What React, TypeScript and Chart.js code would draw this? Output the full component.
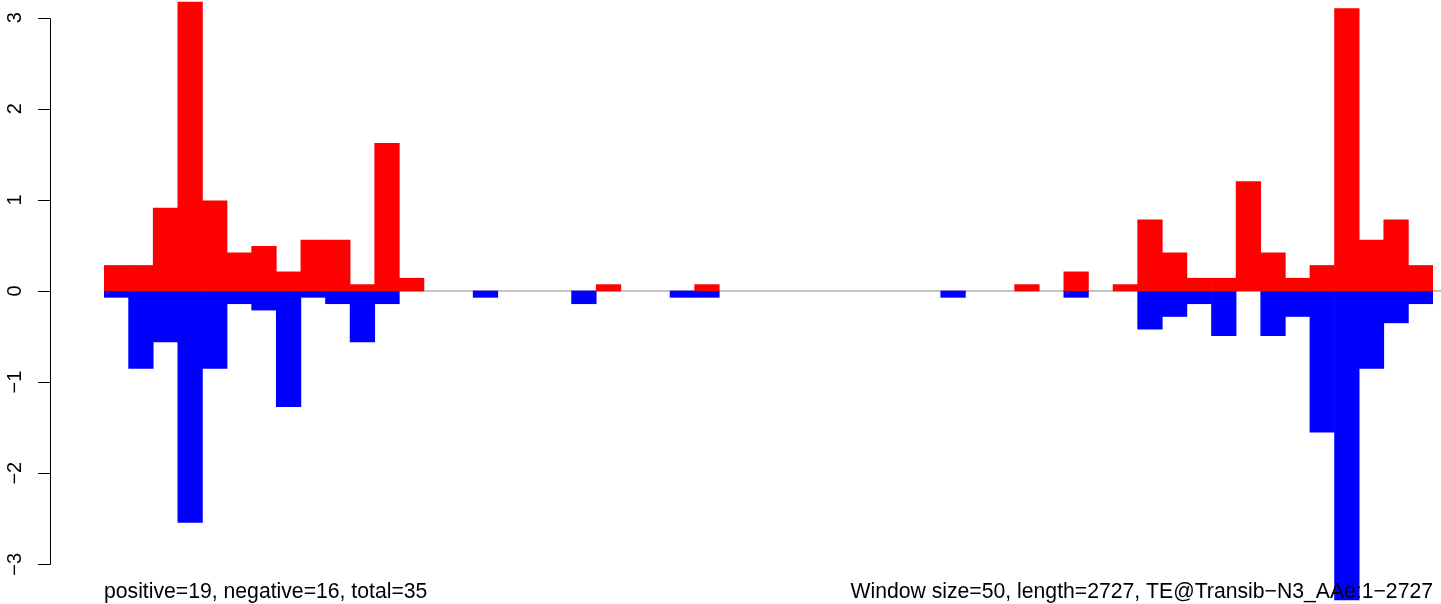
import React, { useEffect, useRef } from "react";
import { Chart, registerables } from "chart.js";

Chart.register(...registerables);

// Window start positions (window size 50) — one bar per window
const windowStarts: number[] = [
  1, 51, 101, 151, 201, 251, 301, 351, 401, 451,
  501, 551, 601, 651, 701, 751, 801, 851, 901, 951,
  1001, 1051, 1101, 1151, 1201, 1251, 1301, 1351, 1401, 1451,
  1501, 1551, 1601, 1651, 1701, 1751, 1801, 1851, 1901, 1951,
  2001, 2051, 2101, 2151, 2201, 2251, 2301, 2351, 2401, 2451,
  2501, 2551, 2601, 2651,
];

// Positive-strand values (red)
const positiveValues: number[] = [
  0.28, 0.28, 0.91, 3.17, 0.99, 0.42, 0.49, 0.21, 0.56, 0.56,
  0.07, 1.62, 0.14, 0, 0, 0, 0, 0, 0, 0,
  0.07, 0, 0, 0, 0.07, 0, 0, 0, 0, 0,
  0, 0, 0, 0, 0, 0, 0, 0.07, 0, 0.21,
  0, 0.07, 0.78, 0.42, 0.14, 0.14, 1.2, 0.42, 0.14, 0.28,
  3.1, 0.56, 0.78, 0.28,
];

// Negative-strand values (blue)
const negativeValues: number[] = [
  -0.07, -0.85, -0.56, -2.54, -0.85, -0.14, -0.21, -1.27, -0.07, -0.14,
  -0.56, -0.14, 0, 0, 0, -0.07, 0, 0, 0, -0.14,
  0, 0, 0, -0.07, -0.07, 0, 0, 0, 0, 0,
  0, 0, 0, 0, -0.07, 0, 0, 0, 0, -0.07,
  0, 0, -0.42, -0.28, -0.14, -0.49, 0, -0.49, -0.28, -1.55,
  -3.39, -0.85, -0.35, -0.14,
];

const yTicks: number[] = [-3, -2, -1, 0, 1, 2, 3];

const leftNote = "positive=19, negative=16, total=35";
const rightNote = "Window size=50, length=2727, TE@Transib\u2212N3_AAe:1\u22122727";

const FONT = '"Liberation Sans", Arial, Helvetica, sans-serif';

const fmtTick = (v: number) => (v < 0 ? "\u2212" + Math.abs(v) : String(v));
const nonZero = (arr: number[]) => arr.map((v) => (v === 0 ? null : v));

const rAxisPlugin = {
  id: "rAxis",
  beforeDatasetsDraw(chart: any) {
    const { ctx, chartArea, scales } = chart;
    const y0 = scales.y.getPixelForValue(0);
    ctx.save();
    ctx.strokeStyle = "#8c8c8c";
    ctx.lineWidth = 1.2;
    ctx.beginPath();
    ctx.moveTo(chartArea.left, y0);
    ctx.lineTo(chart.width, y0);
    ctx.stroke();
    ctx.restore();
  },
  afterDraw(chart: any) {
    const { ctx, chartArea, scales } = chart;
    const y = scales.y;
    ctx.save();
    ctx.strokeStyle = "#000";
    ctx.fillStyle = "#000";
    ctx.lineWidth = 1;
    const axisX = 50.5;
    const top = y.getPixelForValue(yTicks[yTicks.length - 1]);
    const bot = y.getPixelForValue(yTicks[0]);
    ctx.beginPath();
    ctx.moveTo(axisX, Math.round(top) + 0.5);
    ctx.lineTo(axisX, Math.round(bot) + 0.5);
    for (const t of yTicks) {
      const py = Math.round(y.getPixelForValue(t)) + 0.5;
      ctx.moveTo(axisX, py);
      ctx.lineTo(38, py);
    }
    ctx.stroke();

    ctx.font = `20px ${FONT}`;
    ctx.textAlign = "center";
    ctx.textBaseline = "alphabetic";
    for (const t of yTicks) {
      const py = y.getPixelForValue(t);
      ctx.save();
      ctx.translate(20.5, py);
      ctx.rotate(-Math.PI / 2);
      ctx.fillText(fmtTick(t), 0, 0);
      ctx.restore();
    }

    ctx.font = `21.2px ${FONT}`;
    ctx.textAlign = "left";
    ctx.fillText(leftNote, chartArea.left, 598);
    ctx.textAlign = "right";
    ctx.fillText(rightNote, chartArea.right, 598);
    ctx.restore();
  },
};

export default function App() {
  const canvasRef = useRef<HTMLCanvasElement | null>(null);

  useEffect(() => {
    if (!canvasRef.current) return;
    const chart = new Chart(canvasRef.current, {
      type: "bar",
      data: {
        labels: windowStarts.map(String),
        datasets: [
          {
            data: nonZero(positiveValues),
            backgroundColor: "#FF0000",
            borderWidth: 0,
            stack: "s",
            barPercentage: 1,
            categoryPercentage: 1,
          },
          {
            data: nonZero(negativeValues),
            backgroundColor: "#0000FF",
            borderWidth: 0,
            stack: "s",
            barPercentage: 1,
            categoryPercentage: 1,
          },
        ],
      },
      options: {
        animation: false,
        responsive: false,
        devicePixelRatio: 1,
        layout: { padding: { left: 104, right: 8, top: 0, bottom: 0 } },
        scales: {
          x: {
            display: false,
            stacked: true,
            grid: { display: false },
          },
          y: {
            display: false,
            stacked: true,
            min: -3.436,
            max: 3.194,
            grid: { display: false },
          },
        },
        plugins: {
          legend: { display: false },
          tooltip: { enabled: false },
        },
      },
      plugins: [rAxisPlugin],
    });
    return () => chart.destroy();
  }, []);

  return (
    <div style={{ position: "absolute", left: 0, top: 0, width: 1441, height: 604, background: "#fff" }}>
      <canvas ref={canvasRef} width={1441} height={604} style={{ display: "block" }} />
    </div>
  );
}
